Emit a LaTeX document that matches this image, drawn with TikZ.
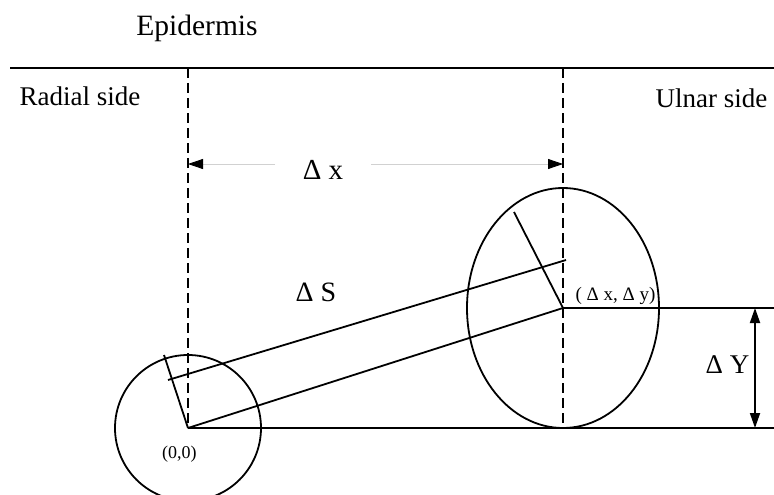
\documentclass[tikz,border=0pt]{standalone}
\usepackage{fontspec}
\setmainfont{Liberation Serif}
\usetikzlibrary{arrows.meta,shapes.geometric}
\begin{document}
\begin{tikzpicture}[x=1pt,y=-1pt,
  bigtext/.style={font=\fontsize{27}{30}\selectfont, anchor=base, inner sep=0pt},
  smalltext/.style={font=\fontsize{19}{22}\selectfont, anchor=base, inner sep=0pt},
  solidline/.style={line width=1.8pt},
  dashline/.style={line width=1.5pt, dash pattern=on 10pt off 5pt},
  greyline/.style={line width=0.8pt, black!18},
  tipblack/.style={-{Triangle[length=15pt,width=10pt,color=black]}}]
\useasboundingbox (0,0) rectangle (774,495);
\clip (0,0) rectangle (774,495);

% key points
\coordinate (O) at (188,428);
\coordinate (P) at (563,308);

% epidermis line and sides
\coordinate (L) at (10,68);
\coordinate (R) at (774,68);
\draw[solidline] (L) -- (R);
\node[bigtext, font=\fontsize{29.5}{32}\selectfont] (epi) at (197,36) {Epidermis};
\node[bigtext] (rad) at (80,106) {Radial side};
\node[bigtext] (uln) at (711.5,107) {Ulnar side};

% circle and ellipse
\node[circle, draw, solidline, inner sep=0pt, minimum size=146pt] (c0) at (O) {};
\node[ellipse, draw, solidline, inner sep=0pt, minimum width=192pt, minimum height=240pt] (e1) at (P) {};

% dashed verticals
\coordinate (T1) at (188,68);
\coordinate (T2) at (563,68);
\coordinate (B2) at (563,428);
\draw[dashline] (T1) -- (O);
\draw[dashline] (T2) -- (B2);

% horizontal reference lines
\coordinate (BR) at (774,428);
\coordinate (PR) at (774,308);
\draw[solidline] (O) -- (BR);
\draw[solidline] (P) -- (PR);

% displacement lines
\coordinate (Q0) at (164,355);
\coordinate (Q1) at (514,212);
\coordinate (U0) at (168,380);
\coordinate (U1) at (566,260);
\draw[solidline] (O) -- (P);
\draw[solidline] (O) -- (Q0);
\draw[solidline] (P) -- (Q1);
\draw[solidline] (U0) -- (U1);

% delta x dimension
\coordinate (A0) at (188,164);
\coordinate (A1) at (563,164);
\coordinate (gL) at (275,164);
\coordinate (gR) at (371,164);
\draw[greyline, tipblack] (gL) -- (A0);
\draw[greyline, tipblack] (gR) -- (A1);
\node[bigtext, font=\fontsize{29}{32}\selectfont] (dx) at (323,179) {Δ x};

% delta Y dimension
\coordinate (Y0) at (755,308);
\coordinate (Y1) at (755,428);
\draw[line width=1.8pt, {Triangle[length=15pt,width=10pt]}-{Triangle[length=15pt,width=10pt]}] (Y0) -- (Y1);
\node[bigtext] (dy) at (727.5,373) {Δ Y};

% labels
\node[bigtext, font=\fontsize{28}{31}\selectfont] (ds) at (316,301.5) {Δ S};
\node[smalltext] (pxy) at (615.5,300) {( Δ x, Δ y)};
\node[smalltext, font=\fontsize{18}{21}\selectfont] (p00) at (179.3,458) {(0,0)};
\end{tikzpicture}
\end{document}
